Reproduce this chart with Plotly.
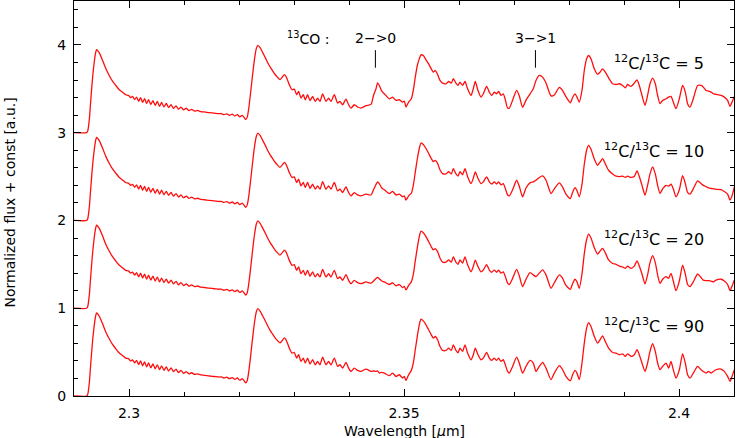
import plotly.graph_objects as go

# CO first overtone model spectra, wavelength in micron, flux normalised
# part below 2.343 micron is the same for all four 12C/13C ratios
wl_head = [
    2.29000, 2.29230, 2.29250, 2.29280, 2.29300, 2.29330, 2.29360, 2.29390, 2.29410, 2.29430,
    2.29460, 2.29520, 2.29580, 2.29640, 2.29700, 2.29760, 2.29820, 2.29880, 2.29940, 2.29993,
    2.30029, 2.30065, 2.30102, 2.30138, 2.30175, 2.30211, 2.30247, 2.30284, 2.30320, 2.30356,
    2.30396, 2.30436, 2.30476, 2.30515, 2.30555, 2.30593, 2.30636, 2.30678, 2.30720, 2.30764,
    2.30809, 2.30855, 2.30900, 2.30945, 2.30993, 2.31042, 2.31091, 2.31138, 2.31193, 2.31247,
    2.31302, 2.31369, 2.31460, 2.31551, 2.31642, 2.31678, 2.31724, 2.31778, 2.31824, 2.31878,
    2.31924, 2.31969, 2.32015, 2.32060, 2.32124, 2.32151, 2.32178, 2.32205, 2.32233, 2.32260,
    2.32287, 2.32315, 2.32342, 2.32387, 2.32429, 2.32478, 2.32520, 2.32569, 2.32611, 2.32660,
    2.32702, 2.32745, 2.32778, 2.32824, 2.32851, 2.32884, 2.32915, 2.32964, 2.33006, 2.33047,
    2.33084, 2.33127, 2.33169, 2.33205, 2.33247, 2.33291, 2.33338, 2.33387, 2.33429, 2.33473,
    2.33520, 2.33582, 2.33629, 2.33673, 2.33733, 2.33793, 2.33836, 2.33884, 2.33945, 2.33993,
    2.34036, 2.34096, 2.34156, 2.34218,
]
flux_head = [
    0.000, 0.000, 0.020, 0.160, 0.330, 0.570, 0.760, 0.900, 0.947, 0.935,
    0.909, 0.822, 0.727, 0.652, 0.587, 0.538, 0.492, 0.462, 0.432, 0.423,
    0.400, 0.412, 0.378, 0.406, 0.358, 0.400, 0.344, 0.388, 0.332, 0.376,
    0.321, 0.365, 0.310, 0.355, 0.300, 0.344, 0.293, 0.332, 0.285, 0.320,
    0.277, 0.306, 0.267, 0.291, 0.259, 0.278, 0.251, 0.265, 0.246, 0.253,
    0.240, 0.236, 0.228, 0.222, 0.216, 0.218, 0.205, 0.215, 0.198, 0.210,
    0.190, 0.205, 0.180, 0.198, 0.150, 0.180, 0.280, 0.420, 0.580, 0.730,
    0.860, 0.960, 0.995, 0.965, 0.915, 0.855, 0.800, 0.745, 0.705, 0.660,
    0.630, 0.605, 0.625, 0.662, 0.645, 0.598, 0.545, 0.489, 0.496, 0.432,
    0.470, 0.394, 0.432, 0.375, 0.432, 0.364, 0.413, 0.356, 0.394, 0.356,
    0.443, 0.356, 0.394, 0.356, 0.432, 0.337, 0.356, 0.318, 0.383, 0.318,
    0.280, 0.318, 0.292, 0.280,
]

# from the 13CO 2-0 band head on the models differ
wl_tail = [
    2.34309, 2.34400, 2.34445, 2.34491, 2.34520, 2.34551, 2.34596, 2.34642, 2.34733, 2.34793,
    2.34855, 2.34915, 2.34975, 2.35006, 2.35036, 2.35084, 2.35133, 2.35169, 2.35205, 2.35242,
    2.35278, 2.35309, 2.35351, 2.35400, 2.35447, 2.35496, 2.35533, 2.35569, 2.35611, 2.35655,
    2.35702, 2.35764, 2.35811, 2.35860, 2.35896, 2.35945, 2.35982, 2.36018, 2.36065, 2.36109,
    2.36156, 2.36218, 2.36260, 2.36296, 2.36345, 2.36400, 2.36442, 2.36502, 2.36551, 2.36593,
    2.36642, 2.36684, 2.36720, 2.36764, 2.36805, 2.36842, 2.36884, 2.36915, 2.36975, 2.37047,
    2.37096, 2.37156, 2.37218, 2.37291, 2.37351, 2.37400, 2.37460, 2.37520, 2.37582, 2.37673,
    2.37733, 2.37824, 2.37884, 2.37945, 2.38024, 2.38065, 2.38109, 2.38145, 2.38187, 2.38236,
    2.38278, 2.38320, 2.38356, 2.38400, 2.38460, 2.38520, 2.38564, 2.38611, 2.38660, 2.38720,
    2.38793, 2.38855, 2.38915, 2.38975, 2.39024, 2.39065, 2.39127, 2.39187, 2.39236, 2.39278,
    2.39327, 2.39382, 2.39429, 2.39473, 2.39520, 2.39569, 2.39611, 2.39655, 2.39702, 2.39764,
    2.39811, 2.39855, 2.39896, 2.39945, 2.40006, 2.40065, 2.40115, 2.40156, 2.40200, 2.40260,
    2.40338, 2.40400, 2.40442, 2.40491, 2.40538, 2.40582, 2.40624, 2.40673, 2.40764, 2.40824,
    2.40884, 2.40927, 2.40964, 2.41006,
]
flux_tail_90 = [
    0.307, 0.280, 0.285, 0.280, 0.285, 0.261, 0.270, 0.261, 0.231, 0.261,
    0.223, 0.242, 0.205, 0.223, 0.178, 0.242, 0.292, 0.375, 0.527, 0.680,
    0.810, 0.875, 0.856, 0.811, 0.754, 0.697, 0.659, 0.678, 0.640, 0.564,
    0.519, 0.519, 0.545, 0.519, 0.583, 0.519, 0.492, 0.545, 0.508, 0.583,
    0.489, 0.413, 0.470, 0.545, 0.470, 0.413, 0.432, 0.496, 0.432, 0.405,
    0.432, 0.405, 0.432, 0.394, 0.413, 0.356, 0.280, 0.261, 0.337, 0.443,
    0.375, 0.261, 0.337, 0.405, 0.375, 0.280, 0.337, 0.383, 0.318, 0.186,
    0.261, 0.345, 0.299, 0.223, 0.174, 0.242, 0.292, 0.261, 0.186, 0.375,
    0.602, 0.773, 0.837, 0.792, 0.678, 0.602, 0.640, 0.686, 0.621, 0.545,
    0.496, 0.489, 0.470, 0.481, 0.451, 0.481, 0.451, 0.470, 0.527, 0.470,
    0.375, 0.280, 0.375, 0.508, 0.595, 0.508, 0.375, 0.300, 0.337, 0.375,
    0.318, 0.394, 0.299, 0.205, 0.299, 0.481, 0.375, 0.242, 0.205, 0.261,
    0.337, 0.299, 0.280, 0.261, 0.280, 0.261, 0.280, 0.299, 0.307, 0.280,
    0.223, 0.167, 0.223, 0.299,
]
flux_tail_20 = [
    0.300, 0.285, 0.310, 0.340, 0.352, 0.335, 0.310, 0.300, 0.270, 0.290,
    0.255, 0.270, 0.235, 0.250, 0.208, 0.260, 0.300, 0.385, 0.540, 0.690,
    0.815, 0.878, 0.860, 0.815, 0.760, 0.700, 0.665, 0.680, 0.645, 0.570,
    0.525, 0.525, 0.550, 0.525, 0.585, 0.525, 0.500, 0.550, 0.515, 0.585,
    0.495, 0.415, 0.475, 0.548, 0.475, 0.415, 0.435, 0.496, 0.435, 0.410,
    0.435, 0.410, 0.435, 0.400, 0.415, 0.360, 0.285, 0.270, 0.340, 0.443,
    0.370, 0.246, 0.330, 0.405, 0.380, 0.360, 0.400, 0.436, 0.380, 0.227,
    0.290, 0.379, 0.340, 0.260, 0.216, 0.280, 0.330, 0.300, 0.227, 0.390,
    0.620, 0.780, 0.845, 0.800, 0.690, 0.617, 0.650, 0.682, 0.630, 0.550,
    0.510, 0.500, 0.480, 0.470, 0.455, 0.480, 0.455, 0.480, 0.540, 0.480,
    0.390, 0.277, 0.380, 0.520, 0.600, 0.520, 0.380, 0.284, 0.330, 0.360,
    0.340, 0.398, 0.310, 0.200, 0.310, 0.492, 0.390, 0.270, 0.246, 0.300,
    0.390, 0.350, 0.320, 0.315, 0.314, 0.310, 0.300, 0.320, 0.330, 0.310,
    0.270, 0.200, 0.250, 0.322,
]
flux_tail_10 = [
    0.300, 0.290, 0.350, 0.410, 0.440, 0.420, 0.370, 0.350, 0.307, 0.330,
    0.290, 0.300, 0.270, 0.280, 0.231, 0.280, 0.310, 0.400, 0.550, 0.700,
    0.820, 0.882, 0.865, 0.820, 0.765, 0.705, 0.670, 0.685, 0.650, 0.575,
    0.534, 0.530, 0.555, 0.530, 0.590, 0.530, 0.505, 0.555, 0.520, 0.590,
    0.500, 0.420, 0.480, 0.553, 0.480, 0.420, 0.440, 0.496, 0.440, 0.415,
    0.440, 0.415, 0.440, 0.405, 0.420, 0.365, 0.290, 0.280, 0.350, 0.458,
    0.390, 0.269, 0.370, 0.428, 0.440, 0.458, 0.490, 0.507, 0.458, 0.307,
    0.360, 0.428, 0.380, 0.300, 0.250, 0.320, 0.375, 0.340, 0.269, 0.410,
    0.640, 0.800, 0.856, 0.810, 0.700, 0.629, 0.665, 0.705, 0.645, 0.572,
    0.530, 0.504, 0.500, 0.504, 0.490, 0.504, 0.490, 0.500, 0.564, 0.500,
    0.400, 0.288, 0.400, 0.530, 0.610, 0.530, 0.400, 0.307, 0.360, 0.400,
    0.390, 0.413, 0.360, 0.269, 0.350, 0.511, 0.420, 0.320, 0.299, 0.360,
    0.450, 0.420, 0.400, 0.385, 0.370, 0.364, 0.360, 0.355, 0.352, 0.330,
    0.300, 0.231, 0.280, 0.383,
]
flux_tail_5 = [
    0.307, 0.322, 0.424, 0.500, 0.568, 0.538, 0.473, 0.443, 0.386, 0.405,
    0.367, 0.375, 0.348, 0.360, 0.292, 0.348, 0.386, 0.481, 0.633, 0.765,
    0.841, 0.886, 0.879, 0.830, 0.784, 0.727, 0.689, 0.708, 0.663, 0.595,
    0.564, 0.557, 0.583, 0.564, 0.614, 0.564, 0.538, 0.576, 0.538, 0.583,
    0.500, 0.424, 0.500, 0.583, 0.481, 0.405, 0.443, 0.527, 0.462, 0.424,
    0.462, 0.443, 0.470, 0.424, 0.443, 0.375, 0.280, 0.280, 0.370, 0.481,
    0.420, 0.290, 0.370, 0.440, 0.500, 0.595, 0.652, 0.633, 0.565, 0.420,
    0.430, 0.515, 0.480, 0.410, 0.340, 0.400, 0.443, 0.405, 0.348, 0.481,
    0.708, 0.841, 0.879, 0.841, 0.727, 0.663, 0.689, 0.727, 0.689, 0.625,
    0.557, 0.549, 0.557, 0.538, 0.511, 0.549, 0.527, 0.564, 0.602, 0.538,
    0.424, 0.311, 0.424, 0.557, 0.621, 0.557, 0.424, 0.330, 0.367, 0.386,
    0.405, 0.413, 0.348, 0.273, 0.386, 0.538, 0.462, 0.330, 0.292, 0.386,
    0.538, 0.538, 0.519, 0.481, 0.473, 0.462, 0.443, 0.436, 0.424, 0.405,
    0.367, 0.299, 0.348, 0.413,
]

ratios = [5, 10, 20, 90]
offsets = [3, 2, 1, 0]
tails = [flux_tail_5, flux_tail_10, flux_tail_20, flux_tail_90]

# 13CO band heads marked on top
co13_heads = [2.3448, 2.3739]
co13_names = ["2\u2212>0", "3\u2212>1"]

assert len(wl_head) == len(flux_head)
for t in tails:
    assert len(t) == len(wl_tail)

FONT = "DejaVu Sans"
fig = go.Figure()

for ratio, off, tail in zip(ratios, offsets, tails):
    fig.add_trace(go.Scatter(
        x=wl_head + wl_tail,
        y=[f + off for f in flux_head + tail],
        mode="lines",
        line=dict(color="#ff0d0d", width=1.3, shape="spline", smoothing=0.6),
        name=f"12C/13C = {ratio}",
        showlegend=False,
    ))
    fig.add_annotation(
        x=2.40496, y=off + 0.8, xref="x", yref="y",
        text=f"<sup>12</sup>C/<sup>13</sup>C = {ratio}",
        showarrow=False, xanchor="right", yanchor="middle",
        font=dict(family=FONT, size=16, color="black"),
    )

for wl, name in zip(co13_heads, co13_names):
    fig.add_shape(type="line", xref="x", yref="y", x0=wl, x1=wl, y0=3.74, y1=3.94,
                  line=dict(color="black", width=1))
    fig.add_annotation(x=wl, y=4.08, xref="x", yref="y", text=name, showarrow=False,
                       xanchor="center", yanchor="middle",
                       font=dict(family=FONT, size=14, color="black"))

fig.add_annotation(x=2.3325, y=4.08, xref="x", yref="y", text="<sup>13</sup>CO :",
                   showarrow=False, xanchor="center", yanchor="middle",
                   font=dict(family=FONT, size=14, color="black"))

# axis titles
fig.add_annotation(x=0.5, y=-0.088, xref="paper", yref="paper",
                   text="Wavelength [<i>\u03bc</i>m]", showarrow=False,
                   xanchor="center", yanchor="middle",
                   font=dict(family=FONT, size=14, color="black"))
fig.add_annotation(x=-0.097, y=0.49, xref="paper", yref="paper",
                   text="Normalized flux + const [a.u.]", showarrow=False, textangle=-90,
                   xanchor="center", yanchor="middle",
                   font=dict(family=FONT, size=14, color="black"))

axis_common = dict(
    showline=True, linecolor="black", linewidth=1, mirror="allticks",
    ticks="inside", ticklen=7, tickcolor="black", tickwidth=1,
    showgrid=False, zeroline=False,
    tickfont=dict(family=FONT, size=14, color="black"),
)
fig.update_xaxes(range=[2.29, 2.41], tick0=2.3, dtick=0.05, ticklabelstandoff=4,
                 minor=dict(dtick=0.01, tick0=2.29, ticks="inside", ticklen=4,
                            tickcolor="black", showgrid=False),
                 **axis_common)
fig.update_yaxes(range=[0, 4.5], tick0=0, dtick=1, ticklabelstandoff=4,
                 minor=dict(dtick=0.2, tick0=0, ticks="inside", ticklen=4,
                            tickcolor="black", showgrid=False),
                 **axis_common)

fig.update_layout(
    width=736, height=438,
    margin=dict(l=74, r=2, t=1, b=42),
    plot_bgcolor="white", paper_bgcolor="white",
    font=dict(family=FONT, size=14, color="black"),
)

# the page body has a default 8px margin, drop it so the figure fills the window
fig.write_html("out.html", config={"displayModeBar": False},
               post_script="document.body.style.margin = '0px';")
